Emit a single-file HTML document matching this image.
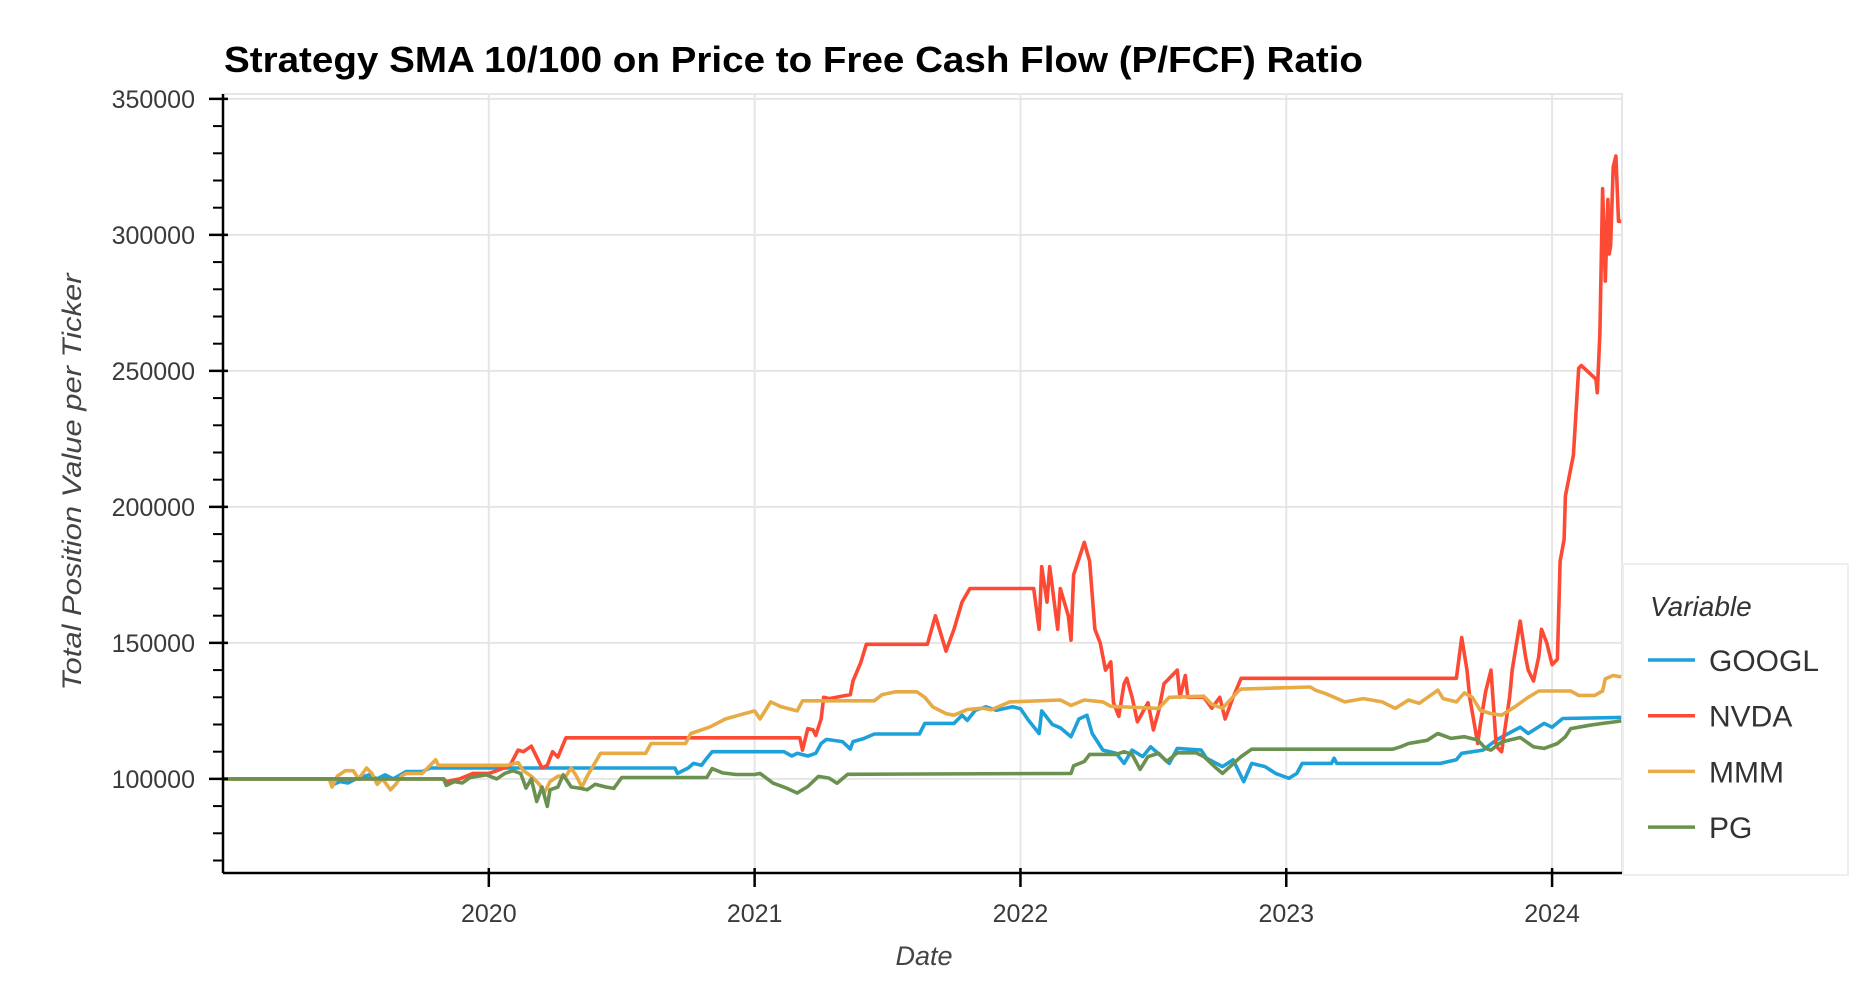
<!DOCTYPE html>
<html><head><meta charset="utf-8"><style>
html,body{margin:0;padding:0;background:#fff;}
svg{display:block;font-family:"Liberation Sans",sans-serif;}
</style></head><body>
<svg id="chart" width="1876" height="994" viewBox="0 0 1876 994" xmlns="http://www.w3.org/2000/svg">
<text x="224" y="72" font-size="36" font-weight="bold" fill="#000" textLength="1139" lengthAdjust="spacingAndGlyphs">Strategy SMA 10/100 on Price to Free Cash Flow (P/FCF) Ratio</text>
<g id="grid"></g>
<g id="series"></g>
<g id="axes"></g>
<text transform="translate(81,482) rotate(-90)" text-anchor="middle" font-size="27" font-style="italic" fill="#444" textLength="417" lengthAdjust="spacingAndGlyphs">Total Position Value per Ticker</text>
<text x="924" y="965" text-anchor="middle" font-size="27" font-style="italic" fill="#444">Date</text>
<g id="legend">
<rect x="1623" y="564" width="225" height="311" fill="#fff" stroke="#eee" stroke-width="2"/>
<text x="1650" y="616" font-size="28" font-style="italic" fill="#333">Variable</text>
</g>
</svg>
<script>
const categories = ["GOOGL","NVDA","MMM","PG"];
const colors = ["#1ea1d9","#fc4a34","#e7aa45","#6a914f"];
const yTicks = [100000,150000,200000,250000,300000,350000];
const yTickLabels = ["100000","150000","200000","250000","300000","350000"];
const xTicks = [2020,2021,2022,2023,2024];
const xTickLabels = ["2020","2021","2022","2023","2024"];

const googlX = [2019.0,2019.4,2019.41,2019.44,2019.47,2019.5,2019.55,2019.58,2019.61,2019.64,2019.69,2019.75,2019.78,2020.0,2020.2,2020.7,2020.71,2020.75,2020.77,2020.8,2020.82,2020.84,2021.11,2021.14,2021.16,2021.2,2021.23,2021.25,2021.27,2021.33,2021.36,2021.37,2021.41,2021.45,2021.62,2021.64,2021.75,2021.78,2021.8,2021.83,2021.87,2021.91,2021.97,2022.0,2022.03,2022.07,2022.08,2022.12,2022.15,2022.19,2022.22,2022.25,2022.27,2022.31,2022.36,2022.39,2022.42,2022.46,2022.49,2022.56,2022.59,2022.68,2022.7,2022.76,2022.8,2022.84,2022.87,2022.92,2022.96,2023.01,2023.04,2023.06,2023.17,2023.18,2023.19,2023.58,2023.64,2023.66,2023.74,2023.79,2023.88,2023.91,2023.97,2024.0,2024.04,2024.26];
const googlV = [100000,100000,97800,99000,98500,100000,101500,100000,101500,100000,102700,102700,104000,104000,104000,104000,102000,104000,105700,105000,107600,110000,110000,108400,109400,108400,109400,113000,114500,113700,111000,113700,114800,116500,116500,120400,120400,123400,121500,125200,126500,125200,126500,125800,121600,116700,125000,120000,118800,115500,122000,123400,116700,110600,109400,105700,110600,108200,111800,105700,111200,110600,107600,104500,107000,99000,105700,104500,102000,100200,102000,105700,105700,107600,105700,105700,107000,109400,110600,114300,119000,116700,120400,119000,122200,122600];

const nvdaX = [2019.0,2019.83,2019.84,2019.89,2019.94,2020.0,2020.03,2020.08,2020.11,2020.13,2020.16,2020.18,2020.2,2020.22,2020.24,2020.26,2020.29,2021.17,2021.18,2021.2,2021.22,2021.23,2021.25,2021.26,2021.28,2021.36,2021.37,2021.4,2021.42,2021.65,2021.66,2021.68,2021.72,2021.75,2021.78,2021.81,2021.82,2022.05,2022.07,2022.08,2022.1,2022.11,2022.14,2022.15,2022.18,2022.19,2022.2,2022.24,2022.26,2022.28,2022.3,2022.32,2022.34,2022.35,2022.37,2022.39,2022.4,2022.42,2022.44,2022.48,2022.5,2022.52,2022.54,2022.57,2022.59,2022.6,2022.62,2022.63,2022.69,2022.72,2022.75,2022.77,2022.8,2022.83,2023.64,2023.66,2023.68,2023.69,2023.72,2023.73,2023.75,2023.77,2023.79,2023.81,2023.84,2023.85,2023.87,2023.88,2023.9,2023.91,2023.93,2023.95,2023.96,2023.98,2024.0,2024.02,2024.03,2024.045,2024.05,2024.07,2024.08,2024.1,2024.11,2024.165,2024.17,2024.18,2024.19,2024.2,2024.21,2024.215,2024.22,2024.23,2024.24,2024.25,2024.26];
const nvdaV = [100000,100000,99000,100000,102000,102000,103000,105000,110600,110000,112000,108000,104000,105000,110000,108000,115100,115100,110600,118500,118000,116000,122000,130000,129500,131000,136000,143000,149500,149500,153000,160000,147000,155000,165000,170000,170000,170000,155000,178000,165000,178000,155000,170000,160000,151000,175000,187000,180000,155000,150000,140000,143000,128000,123000,135000,137000,130000,121000,128000,118000,125000,135000,138000,140000,130000,138000,130000,130000,126000,130000,122000,130000,137000,137000,152000,140000,130000,113000,120000,132000,140000,112000,110000,130000,140000,152000,158000,145000,140000,136000,145000,155000,150000,142000,144000,180000,188000,204000,214000,219000,251000,252000,247000,242000,264000,317000,283000,313000,293000,296000,325000,329000,305000,305000];

const mmmX = [2019.0,2019.4,2019.41,2019.43,2019.46,2019.49,2019.51,2019.54,2019.56,2019.58,2019.6,2019.63,2019.65,2019.67,2019.69,2019.75,2019.78,2019.8,2019.81,2020.07,2020.11,2020.13,2020.16,2020.19,2020.21,2020.23,2020.26,2020.29,2020.31,2020.33,2020.35,2020.37,2020.4,2020.42,2020.59,2020.61,2020.74,2020.76,2020.83,2020.89,2020.94,2021.0,2021.02,2021.06,2021.1,2021.16,2021.18,2021.45,2021.48,2021.53,2021.61,2021.64,2021.67,2021.72,2021.75,2021.8,2021.86,2021.89,2021.96,2022.15,2022.19,2022.24,2022.31,2022.34,2022.52,2022.56,2022.69,2022.72,2022.76,2022.82,2022.83,2023.09,2023.11,2023.15,2023.22,2023.29,2023.36,2023.41,2023.46,2023.5,2023.57,2023.59,2023.64,2023.67,2023.7,2023.73,2023.77,2023.81,2023.86,2023.91,2023.95,2024.07,2024.1,2024.16,2024.19,2024.2,2024.23,2024.26];
const mmmV = [100000,100000,97000,101000,103000,103000,100000,104000,102000,98000,100000,96000,98000,101000,102000,102000,105000,107000,105000,105000,106000,103000,101000,98000,95000,99000,101000,101000,104000,101000,97000,101000,106000,109400,109400,113000,113000,116700,119000,122000,123400,125000,122000,128300,126500,125000,128700,128700,131000,132000,132000,130000,126500,124000,123400,125500,126000,125400,128300,129000,127000,129000,128300,126700,125900,130000,130400,127400,126000,132300,133000,133800,132600,131300,128300,129500,128300,125900,129000,127800,132600,129500,128300,131600,130000,125200,124000,123400,126500,130000,132300,132300,130700,130700,132300,136800,138000,137500];

const pgX = [2019.0,2019.83,2019.84,2019.87,2019.9,2019.93,2019.99,2020.03,2020.06,2020.09,2020.12,2020.14,2020.16,2020.18,2020.2,2020.22,2020.23,2020.26,2020.28,2020.31,2020.34,2020.37,2020.4,2020.44,2020.47,2020.5,2020.82,2020.84,2020.88,2020.93,2021.0,2021.02,2021.07,2021.12,2021.16,2021.2,2021.24,2021.28,2021.31,2021.35,2022.19,2022.2,2022.24,2022.26,2022.36,2022.39,2022.42,2022.45,2022.48,2022.52,2022.55,2022.59,2022.66,2022.69,2022.73,2022.76,2022.83,2022.87,2023.4,2023.43,2023.46,2023.53,2023.57,2023.62,2023.67,2023.72,2023.75,2023.77,2023.81,2023.88,2023.93,2023.97,2024.02,2024.05,2024.07,2024.14,2024.19,2024.26];
const pgV = [100000,100000,97600,99000,98500,100500,101500,100000,102000,103000,102000,96600,100000,91700,97000,89900,96000,97000,101500,97000,96600,96000,98000,97000,96500,100500,100500,103800,102200,101600,101600,102000,98400,96600,94800,97200,100900,100300,98400,101700,102000,104800,106400,109000,109000,110000,109000,103500,108200,109400,106400,109600,109600,108200,104500,102000,108200,110900,110900,111800,113000,114200,116700,114900,115500,114300,111200,110600,113600,115200,111800,111200,113000,115500,118500,119700,120400,121300];

const seriesX = [googlX, nvdaX, mmmX, pgX];
const seriesV = [googlV, nvdaV, mmmV, pgV];

const NS = "http://www.w3.org/2000/svg";
const L = 223, R = 1622, T = 94, B = 873;
const xMin = 2019.0, xMax = 2024.263;
const yMin = 65400, yMax = 351800;
function xs(v){ return L + (v - xMin) / (xMax - xMin) * (R - L); }
function ys(v){ return B - (v - yMin) / (yMax - yMin) * (B - T); }
function mk(tag, attrs, parent){ const e = document.createElementNS(NS, tag); for (const k in attrs) e.setAttribute(k, attrs[k]); parent.appendChild(e); return e; }

const grid = document.getElementById('grid');
const axes = document.getElementById('axes');
const series = document.getElementById('series');
const legend = document.getElementById('legend');

const frame = mk('rect', {x:L, y:T, width:R-L, height:B-T, fill:'none', stroke:'#e6e6e6', 'stroke-width':2}, grid);



yTicks.forEach((t, i) => {
  const y = ys(t);
  const g = mk('line', {x1:L, x2:R, y1:y, y2:y, stroke:'#e6e6e6', 'stroke-width':2}, grid);
  
  
  const tk = mk('line', {x1:L-14, x2:L+5, y1:y, y2:y, stroke:'#000', 'stroke-width':2.5}, axes);
  
  
  const lb = mk('text', {x:195, y:y+9, 'text-anchor':'end', 'font-size':25, fill:'#3a3a3a'}, axes);
  lb.textContent = yTickLabels[i];
  
  
});
for (let v = 70000; v < yMax; v += 10000) {
  if (v % 50000 === 0) continue;
  const y = ys(v);
  const m = mk('line', {x1:L-10, x2:L, y1:y, y2:y, stroke:'#000', 'stroke-width':2}, axes);
  
  
}
xTicks.forEach((t, i) => {
  const x = xs(t);
  const g = mk('line', {x1:x, x2:x, y1:T, y2:B, stroke:'#e6e6e6', 'stroke-width':2}, grid);
  
  
  const tk = mk('line', {x1:x, x2:x, y1:B-5, y2:B+14, stroke:'#000', 'stroke-width':2.5}, axes);
  
  
  const lb = mk('text', {x:x, y:922, 'text-anchor':'middle', 'font-size':25, fill:'#3a3a3a'}, axes);
  lb.textContent = xTickLabels[i];
  
  
});
const ya = mk('line', {x1:L, x2:L, y1:T, y2:B, stroke:'#000', 'stroke-width':2.5}, axes);


const xa = mk('line', {x1:L, x2:R, y1:B, y2:B, stroke:'#000', 'stroke-width':2.5}, axes);



categories.forEach((c, i) => {
  const X = seriesX[i], V = seriesV[i];
  let d = '';
  for (let k = 0; k < X.length; k++) d += (k ? 'L' : 'M') + xs(X[k]).toFixed(1) + ',' + ys(V[k]).toFixed(1);
  const p = mk('path', {d:d, fill:'none', stroke:colors[i], 'stroke-width':3.6, 'stroke-linejoin':'round'}, series);
  
  

  const ly = 660 + i * 55.7;
  const ls = mk('line', {x1:1648, x2:1695, y1:ly, y2:ly, stroke:colors[i], 'stroke-width':3.5}, legend);
  
  
  const lt = mk('text', {x:1709, y:ly+11, 'font-size':30, fill:'#333'}, legend);
  lt.textContent = c;
  
  
});
</script>
</body></html>
